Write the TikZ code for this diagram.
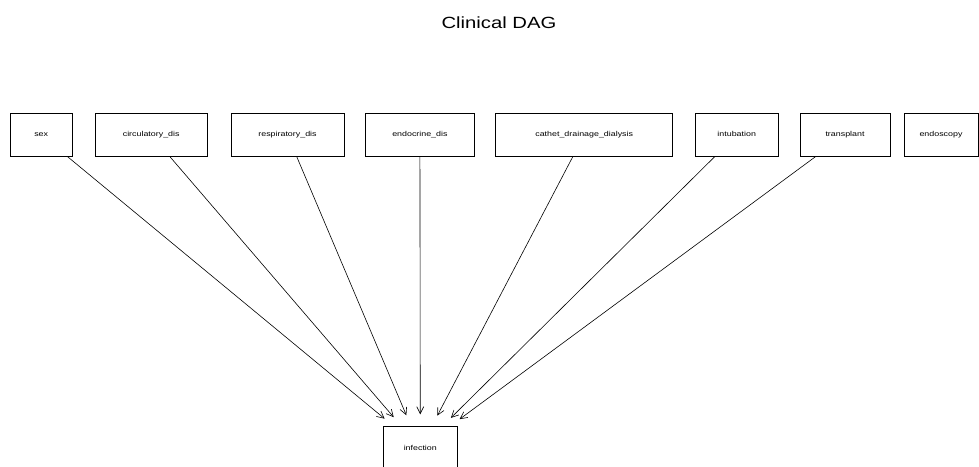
\documentclass[tikz,border=0pt]{standalone}
\usepackage{fontspec}
\setmainfont{Liberation Sans}
\newfontfamily\widefont[FakeStretch=1.25]{Liberation Sans}
\usetikzlibrary{arrows.meta}

\begin{document}
\begin{tikzpicture}[x=1pt,y=-1pt,
    var/.style={draw,line width=0.8pt,inner sep=0pt,minimum height=43pt,
      font=\widefont\fontsize{7.1}{8}\selectfont,text height=5.2pt,text depth=1.5pt},
    >={Straight Barb[length=7pt,width=7pt]}]

  \clip (0,0) rectangle (979,466);

  \node (title) [anchor=base,font=\widefont\fontsize{16.2}{18}\selectfont] at (499,28.3) {Clinical DAG};

  \node[var, minimum width=62.3pt]  (sex)    at (41.2,134.8)  {sex};
  \node[var, minimum width=112.3pt] (circ)   at (151.2,134.8) {circulatory\_dis};
  \node[var, minimum width=113pt]   (resp)   at (287.5,134.8) {respiratory\_dis};
  \node[var, minimum width=108.3pt] (endo)   at (419.9,134.8) {endocrine\_dis};
  \node[var, minimum width=177pt]   (cath)   at (584.2,134.8) {cathet\_drainage\_dialysis};
  \node[var, minimum width=83.3pt]  (intub)  at (736.7,134.8) {intubation};
  \node[var, minimum width=90pt]    (transp) at (845,134.8)   {transplant};
  \node[var, minimum width=74pt]    (endosc) at (941,134.8)   {endoscopy};
  \node[var, minimum width=74pt]    (infect) at (420.3,448.2) {infection};

  \path [->,line width=0.6pt,shorten >=12pt]
        (sex)    edge (infect)
        (circ)   edge (infect)
        (resp)   edge (infect)
        (endo)   edge (infect)
        (cath)   edge (infect)
        (intub)  edge (infect)
        (transp) edge (infect);
\end{tikzpicture}
\end{document}
